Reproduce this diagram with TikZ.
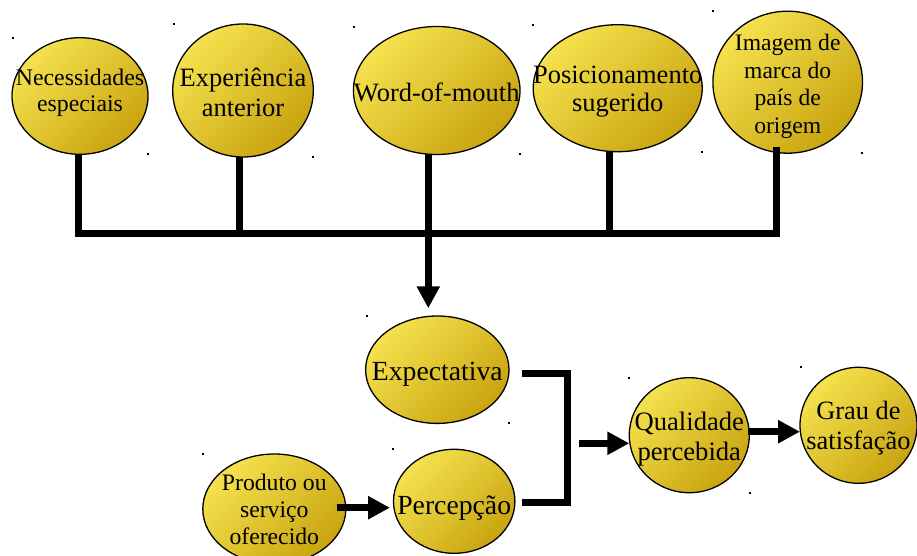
\documentclass[tikz,border=0pt]{standalone}
\usepackage{fontspec}
\setmainfont{Liberation Serif}
\usetikzlibrary{shapes.geometric,arrows.meta,calc}
\definecolor{goldL}{RGB}{245,226,78}
\definecolor{goldD}{RGB}{200,164,16}

\begin{document}
\begin{tikzpicture}[x=1pt,y=-1pt,
  bubble/.style={ellipse, draw=black, line width=1.3pt, top color=goldL,
    bottom color=goldD, shading angle=45, inner sep=0pt, outer sep=0pt},
  lbl/.style={align=center, inner sep=0pt, text=black,
    font=\fontsize{26.5}{29}\selectfont},
  lblsm/.style={lbl, font=\fontsize{23.8}{26.5}\selectfont},
  lblbig/.style={lbl, font=\fontsize{27.7}{30}\selectfont},
  conn/.style={line width=7pt, black, line join=miter, line cap=butt},
  arr/.style={conn, -{Triangle[length=22pt,width=22pt]}},
  tick/.style={black}
]
\useasboundingbox (0,0) rectangle (917,556);

% factors
\node[bubble, minimum width=136, minimum height=116.6] (nec)  at (80,96)      {};
\node[bubble, minimum width=140.6, minimum height=133] (exp) at (243,90.5)   {};
\node[bubble, minimum width=166.6, minimum height=128] (wom) at (436.7,90.5) {};
\node[bubble, minimum width=169, minimum height=127]   (pos) at (617.7,88.2) {};
\node[bubble, minimum width=149.6, minimum height=142] (img) at (787.7,82.2) {};

\node[lblsm, font=\fontsize{23.8}{25.7}\selectfont] at ([yshift=3pt]nec.center) {Necessidades\\especiais};
\node[lbl, font=\fontsize{26.5}{30}\selectfont] at ([yshift=-2pt]exp.center) {Experiência\\anterior};
\node[lbl] at ([yshift=-1.5pt]wom.center) {Word-of-mouth};
\node[lbl, font=\fontsize{26.5}{28.4}\selectfont] at ([yshift=-3.5pt]pos.center) {Posicionamento\\sugerido};
\node[lblsm, font=\fontsize{23.6}{27.5}\selectfont] at ([yshift=-4pt]img.center) {Imagem de\\marca do\\país de\\origem};

% lower chain
\node[bubble, minimum width=143.4, minimum height=107.4] (expc) at (437.3,369.7) {};
\node[bubble, minimum width=143, minimum height=110]     (prod) at (274.3,509)   {};
\node[bubble, minimum width=121.4, minimum height=104]   (perc) at (454.2,501.3) {};
\node[bubble, minimum width=120, minimum height=115]     (qual) at (689.3,435.2) {};
\node[bubble, minimum width=117, minimum height=116]     (grau) at (858.5,425.3) {};

\node[lblbig] at ([yshift=-5pt]expc.center) {Expectativa};
\node[lblsm, font=\fontsize{23.7}{27}\selectfont] at (prod) {Produto ou\\serviço\\oferecido};
\node[lblbig] at ([yshift=-6.5pt]perc.center) {Percepção};
\node[lbl, font=\fontsize{26.6}{30}\selectfont] at ([yshift=-3.5pt]qual.center) {Qualidade\\percebida};
\node[lbl, font=\fontsize{26.4}{30}\selectfont] at ([yshift=-2.5pt]grau.center) {Grau de\\satisfação};

% collecting bar
\coordinate (barL) at (78.3,233);
\coordinate (barR) at (776.7,233);
\coordinate (s5)   at (776.7,147);
\draw[conn] (78.3,0 |- nec.south) -- (barL) -- (barR) -- (s5);
\draw[conn] (239,0 |- exp.south) -- (239,233);
\draw[conn] (428.3,0 |- wom.south) -- (428.3,233);
\draw[conn] (609.3,0 |- pos.south) -- (609.3,233);
\draw[arr, shorten >=7.7pt] (428.3,233) -- (428.3,0 |- expc.north);

% bracket joining expectation and perception
\coordinate (bT) at (567,373.7);
\coordinate (bB) at (567,502.5);
\coordinate (bO) at (579,443.3);
\draw[conn] (521.7,373.7) -- (bT) -- (bB) -- (521.7,502.5);
\draw[arr] (bO) -- (qual.west |- bO);

\draw[arr] (336.7,507.7) -- (390,507.7);
\draw[arr] (747.7,431.7) -- (800,431.7);

% frame corner ticks
\foreach \p in {(12.7,37.7),(147.7,154.3),(173.7,24),(313.3,157),
  (354.3,27.3),(520,154.3),(533.3,24.7),(702.3,151.7),(713.3,11.3),
  (862.3,153.3),(367,316),(509,423.3),(203,454),(393.3,449.3),
  (629.3,377.7),(750,492.7),(800.7,367.3)}
  \fill[tick] \p ++(-1.1,-1.1) rectangle ++(2.2,2.2);
\end{tikzpicture}
\end{document}
